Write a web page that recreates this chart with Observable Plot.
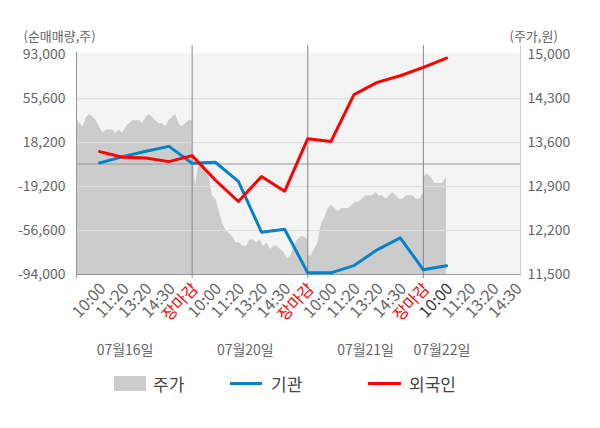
<!DOCTYPE html>
<html>
<head>
<meta charset="utf-8">
<script src="https://cdn.jsdelivr.net/npm/d3@7"></script>
<script src="https://cdn.jsdelivr.net/npm/@observablehq/plot@0.6"></script>
<style>
  html, body { margin: 0; padding: 0; background: #fff; }
  #wrap { position: relative; width: 600px; height: 428px; font-family: "Noto Sans CJK KR", "Noto Sans", sans-serif; }
  #chart { position: absolute; left: 0; top: 0; }
  .lg { position: absolute; top: 372px; height: 24px; line-height: 24px; font-size: 17px; color: #444; }
  .sw { position: absolute; }
</style>
</head>
<body>
<div id="wrap">
  <div id="chart"></div>
  <div class="sw" style="left:114px; top:376px; width:32px; height:15px; background:#cccccc;"></div>
  <div class="lg" style="left:153px;">주가</div>
  <div class="sw" style="left:230px; top:382px; width:32px; height:3px; background:#0582ca;"></div>
  <div class="lg" style="left:271px;">기관</div>
  <div class="sw" style="left:368px; top:382px; width:33px; height:3px; background:#ff0000;"></div>
  <div class="lg" style="left:409px;">외국인</div>
</div>
<script>
// ---- data ----
const xLabels = ["10:00","11:20","13:20","14:30","장마감","10:00","11:20","13:20","14:30","장마감","10:00","11:20","13:20","14:30","장마감","10:00","11:20","13:20","14:30"];
const dateLabels = ["07월16일","07월20일","07월21일","07월22일"];
const datePos = [1.1, 6.3, 11.5, 14.8];
const dayBounds = [4, 9, 14];

const volTicks = [93000, 55600, 18200, -19200, -56600, -94000];
const priceTicks = [15000, 14300, 13600, 12900, 12200, 11500];

// net buying (shares) at each time slot
const institution = [900, 6300, 10800, 15050, 600, 1500, -14700, -58000, -55500, -92600, -92600, -86400, -73000, -62800, -90000, -86600];
const foreigner = [10550, 5700, 5200, 2050, 7150, -13600, -31900, -10700, -23200, 21600, 19100, 59000, 69500, 75100, 82200, 90200];

// intraday price (won), per day
const priceDaySpans = [[-1, 4], [4, 9], [9, 14], [14, 15]];
const priceJul16 = [14000,13900,13850,14000,14050,14000,13950,13850,13750,13800,13800,13800,13750,13800,13750,13850,13900,13950,13950,13950,13900,14000,14050,14000,13950,13900,13900,13850,13950,14000,14050,13900,13850,13900,13950,13950];
const priceJul20 = [13550,12900,13300,13250,13200,13050,12750,12700,12500,12300,12200,12150,12100,12000,12000,11950,11950,12050,12050,12000,12050,11950,12000,11900,11950,11950,11900,11850,11750,11800,11950,12050,12100,12100,12050];
const priceJul21 = [11800,11800,11900,12000,12300,12400,12550,12600,12550,12500,12550,12550,12550,12600,12650,12650,12700,12750,12750,12750,12800,12750,12750,12700,12750,12800,12750,12700,12700,12750,12750,12750,12700,12700,12800];
const priceJul22 = [13050,13100,13050,12950,12950,12950,13050];

// ---- build ----
const vMax = volTicks[0], vMin = volTicks[volTicks.length - 1];
const pMax = priceTicks[0], pMin = priceTicks[priceTicks.length - 1];
const p2v = p => vMin + (p - pMin) / (pMax - pMin) * (vMax - vMin);
const v2p = v => pMin + (v - vMin) / (vMax - vMin) * (pMax - pMin);

const priceDays = [priceJul16, priceJul20, priceJul21, priceJul22];
const priceData = [];
priceDays.forEach((arr, d) => {
  const [s, e] = priceDaySpans[d];
  arr.forEach((p, k) => priceData.push({x: s + (e - s) * k / (arr.length - 1), v: p2v(p)}));
});
const instData = institution.map((v, i) => ({x: i, v}));
const forData = foreigner.map((v, i) => ({x: i, v}));
const labelData = xLabels.map((t, i) => ({i, t, c: t === "장마감" ? "#ff0000" : (i === 15 ? "#333333" : "#666666")}));
const dateData = dateLabels.map((t, i) => ({t, x: datePos[i]}));

const fmt = d => Math.round(d).toLocaleString("en-US");
const xMax = 18.2;

const chart = Plot.plot({
  width: 600,
  height: 362,
  marginTop: 52,
  marginBottom: 88,
  marginLeft: 76,
  marginRight: 80,
  style: {fontFamily: "'Noto Sans CJK KR', 'Noto Sans', sans-serif", fontSize: "14px", color: "#666", background: "transparent"},
  x: {domain: [-1, xMax], axis: null},
  y: {domain: [vMin, vMax + 1900], axis: null},
  marks: [
    Plot.frame({fill: "#f4f4f4", stroke: null}),
    Plot.areaY(priceData, {x: "x", y1: () => vMin, y2: "v", fill: "#cccccc", curve: "linear"}),
    Plot.ruleY(volTicks.slice(1, -1), {stroke: "#dddddd"}),
    Plot.ruleY([0], {stroke: "#999999"}),
    Plot.ruleX(dayBounds, {stroke: "#888888", insetTop: -7, insetBottom: -4}),
    Plot.ruleX([-1], {stroke: "#999999", insetBottom: -4}),
    Plot.ruleX([xMax], {stroke: "#cccccc", insetTop: -7, insetBottom: -2}),
    Plot.ruleY([vMin], {stroke: "#999999"}),
    Plot.line(instData, {x: "x", y: "v", stroke: "#0582ca", strokeWidth: 3}),
    Plot.line(forData, {x: "x", y: "v", stroke: "#ff0000", strokeWidth: 3}),
    Plot.axisY({anchor: "left", ticks: volTicks, tickSize: 0, tickPadding: 11, tickFormat: fmt, label: null, fill: "#666"}),
    Plot.axisY({anchor: "right", ticks: volTicks, tickSize: 0, tickPadding: 7, tickFormat: d => fmt(v2p(d)), label: null, fill: "#666"}),
    Plot.text(["(순매매량,주)"], {frameAnchor: "top-left", dx: -53, dy: -21, textAnchor: "start", fill: "#666", fontSize: 13}),
    Plot.text(["(주가,원)"], {frameAnchor: "top-right", dx: -11, dy: -21, textAnchor: "start", fill: "#666", fontSize: 13}),
    Plot.text(labelData, {x: "i", text: "t", fill: "c", frameAnchor: "bottom", rotate: -47, textAnchor: "end", dy: 15, dx: 7, fontSize: 16}),
    Plot.text(dateData, {x: "x", text: "t", frameAnchor: "bottom", dy: 80, fill: "#666"})
  ]
});
document.getElementById("chart").appendChild(chart);
</script>
</body>
</html>
